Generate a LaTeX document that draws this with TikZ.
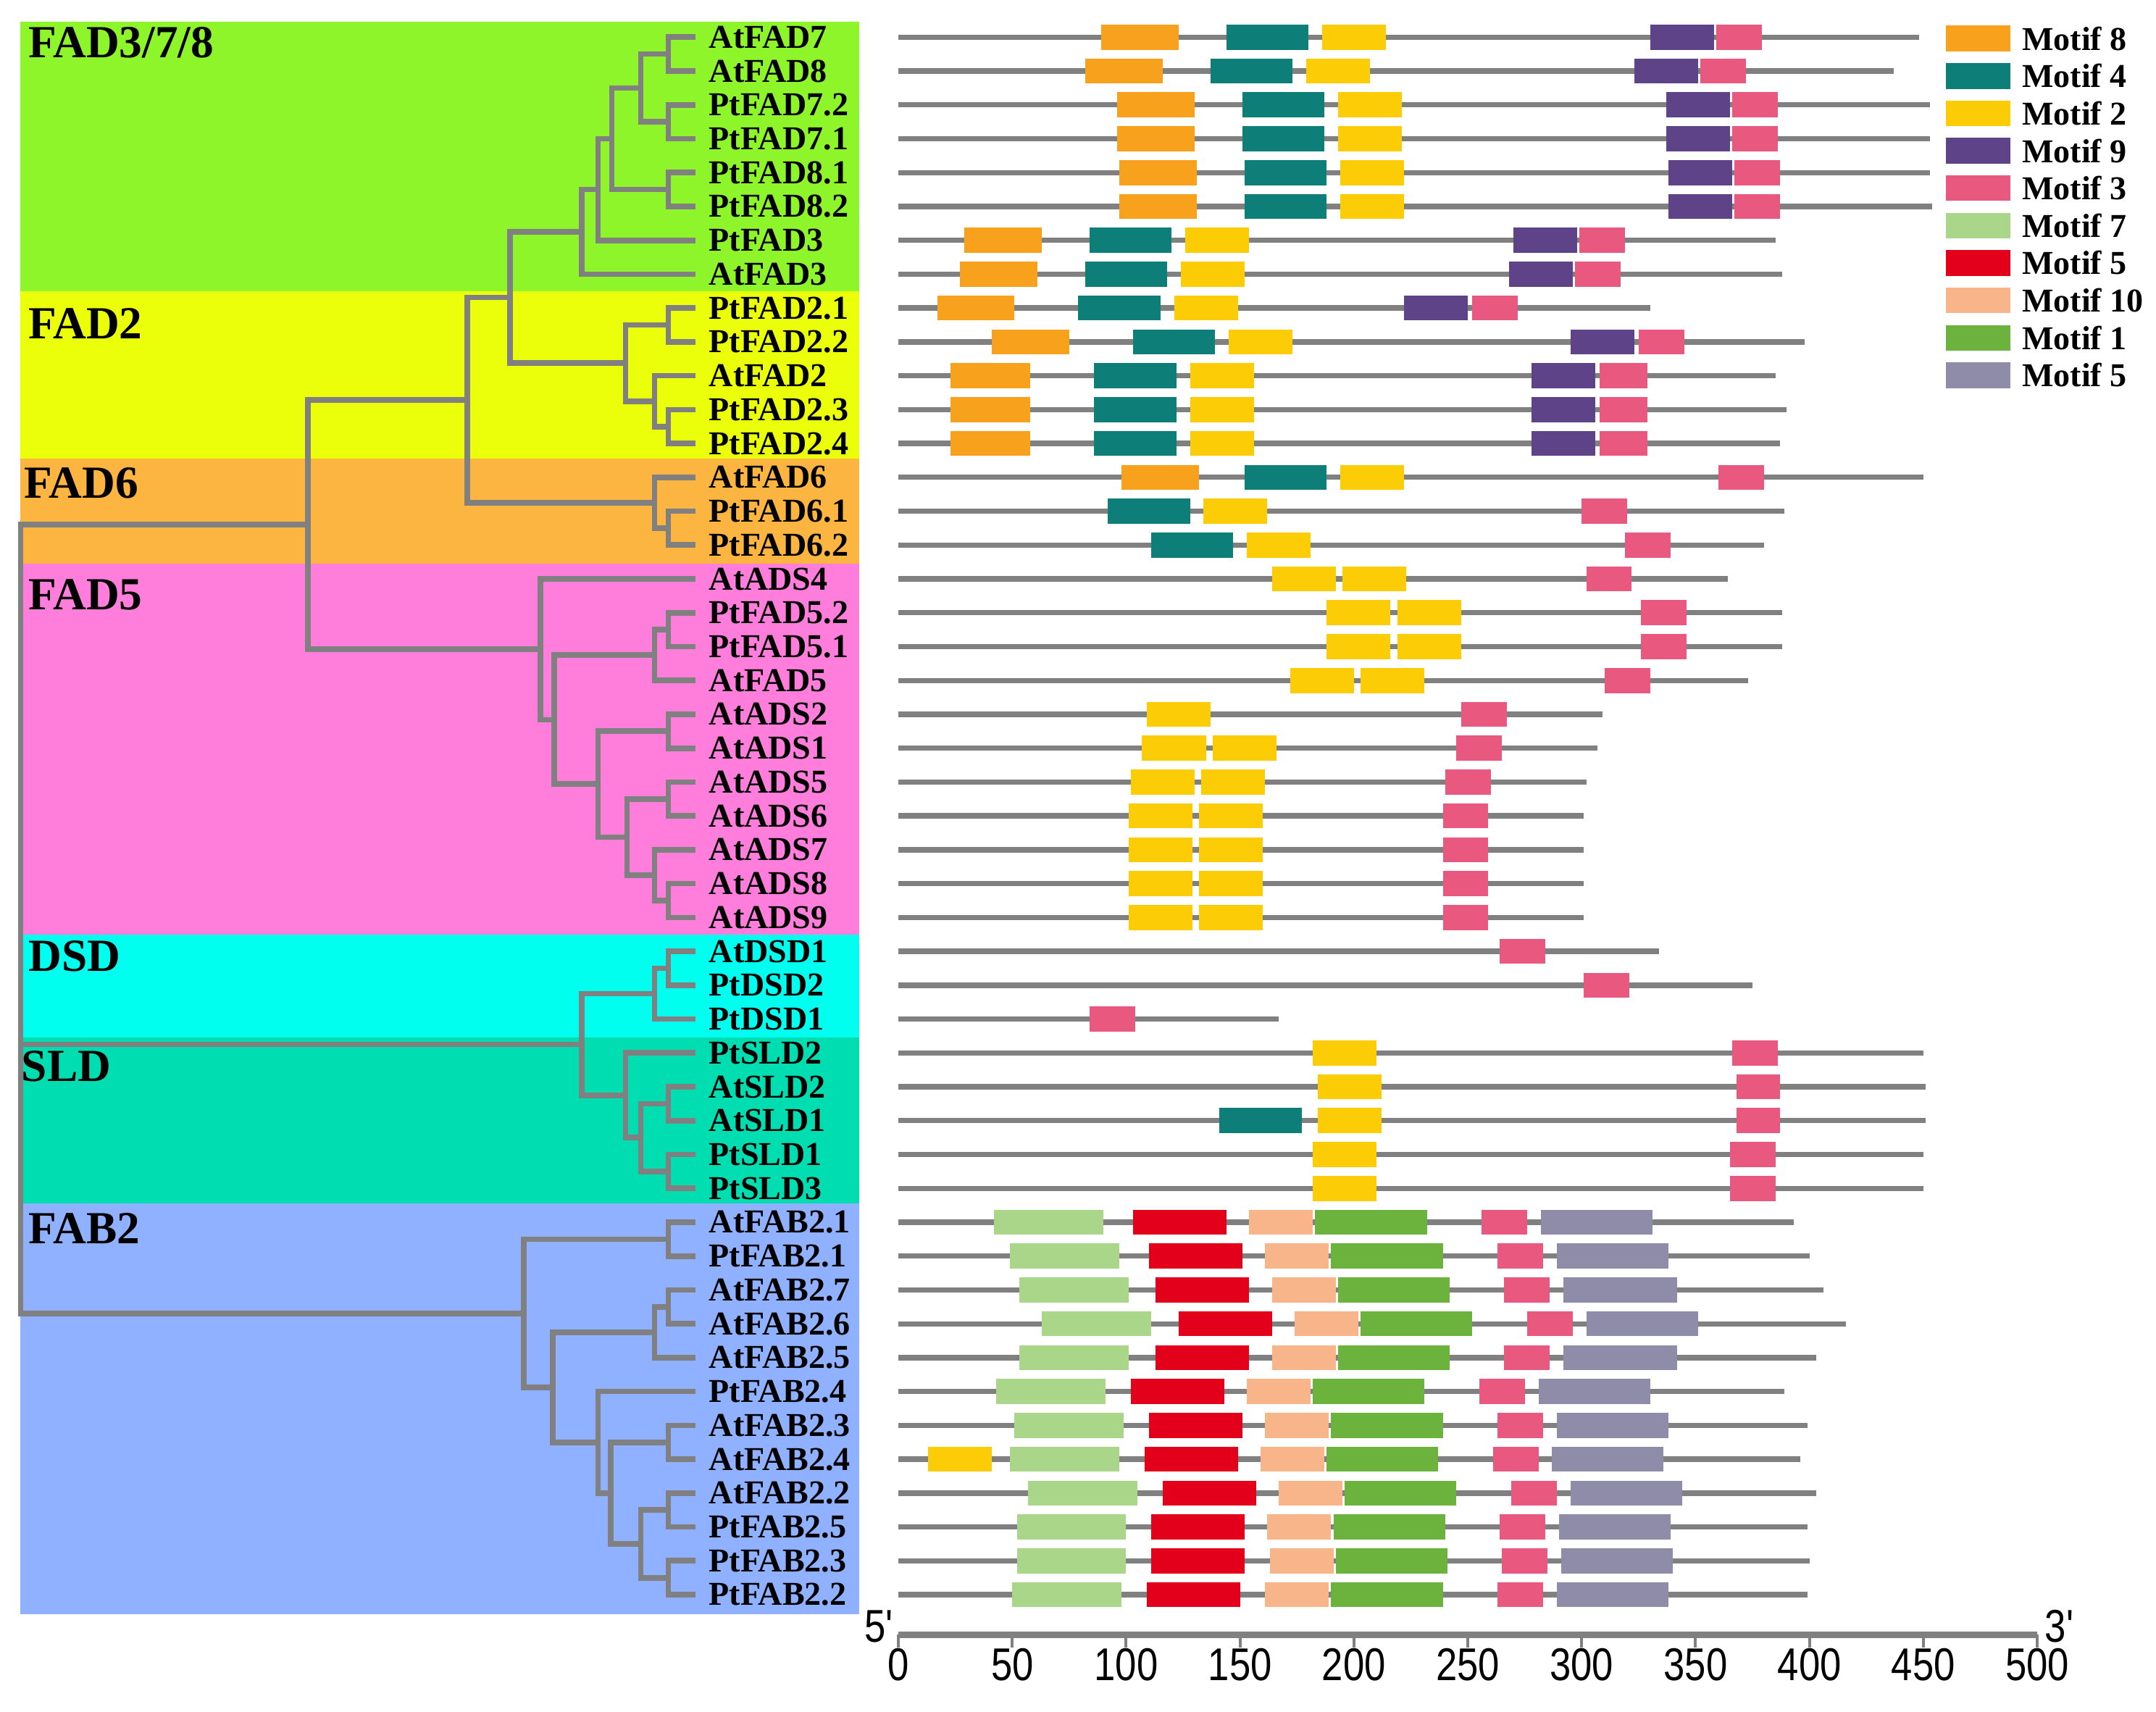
\documentclass[tikz,border=0pt]{standalone}
\usepackage{fontspec}
\setmainfont{Liberation Serif}
\newfontfamily\axisfont[FakeStretch=0.83]{Liberation Sans}
\usetikzlibrary{positioning}

\definecolor{treegray}{RGB}{128,128,128}
\definecolor{bandA}{RGB}{143,245,43}
\definecolor{bandB}{RGB}{235,255,10}
\definecolor{bandC}{RGB}{251,181,64}
\definecolor{bandD}{RGB}{255,126,219}
\definecolor{bandE}{RGB}{0,255,238}
\definecolor{bandF}{RGB}{0,221,176}
\definecolor{bandG}{RGB}{143,177,255}
\definecolor{m8}{HTML}{F8A11C}
\definecolor{m4}{HTML}{0E7F78}
\definecolor{m2}{HTML}{FCCC07}
\definecolor{m9}{HTML}{5E4388}
\definecolor{m3}{HTML}{E9587F}
\definecolor{m7}{HTML}{AAD68A}
\definecolor{m5}{HTML}{E2001A}
\definecolor{m10}{HTML}{F7B589}
\definecolor{m1}{HTML}{6CB33E}
\definecolor{m5b}{HTML}{8E8CA9}

\tikzset{
  branch/.style={draw=treegray, line width=1.15pt},
  backbone/.style={draw=treegray, line width=1.1pt},
  leaf/.style={anchor=west, inner xsep=0.09cm, inner ysep=0pt, font=\bfseries\fontsize{6.9}{7}\selectfont},
  clade/.style={anchor=base west, inner sep=0pt, font=\bfseries\fontsize{9.5}{10}\selectfont},
  legtext/.style={anchor=west, inner sep=0pt, font=\bfseries\fontsize{6.9}{7}\selectfont},
  ticklabel/.style={inner sep=0pt, font=\axisfont\fontsize{9.5}{10}\selectfont}
}

\begin{document}
\begin{tikzpicture}[x=0.01cm, y=-0.2461cm]
\useasboundingbox (0,-1.097) rectangle (1568,49.45);

% clade bands
\fill[bandA] (15,-0.45) rectangle (625,7.5);
\fill[bandB] (15,7.5) rectangle (625,12.45);
\fill[bandC] (15,12.45) rectangle (625,15.55);
\fill[bandD] (15,15.55) rectangle (625,26.5);
\fill[bandE] (15,26.5) rectangle (625,29.55);
\fill[bandF] (15,29.55) rectangle (625,34.45);
\fill[bandG] (15,34.45) rectangle (625,46.57);

\node[clade] (cA) at (20,0.61) {FAD3/7/8};
\node[clade] (cB) at (20,8.9) {FAD2};
\node[clade] (cC) at (17,13.61) {FAD6};
\node[clade] (cD) at (20,16.9) {FAD5};
\node[clade] (cE) at (20,27.59) {DSD};
\node[clade] (cF) at (15,30.84) {SLD};
\node[clade] (cG) at (20,35.64) {FAB2};

% leaves
\foreach \nm [count=\i from 0] in {AtFAD7,AtFAD8,PtFAD7.2,PtFAD7.1,PtFAD8.1,PtFAD8.2,PtFAD3,AtFAD3,
  PtFAD2.1,PtFAD2.2,AtFAD2,PtFAD2.3,PtFAD2.4,AtFAD6,PtFAD6.1,PtFAD6.2,AtADS4,PtFAD5.2,PtFAD5.1,
  AtFAD5,AtADS2,AtADS1,AtADS5,AtADS6,AtADS7,AtADS8,AtADS9,AtDSD1,PtDSD2,PtDSD1,PtSLD2,AtSLD2,
  AtSLD1,PtSLD1,PtSLD3,AtFAB2.1,PtFAB2.1,AtFAB2.7,AtFAB2.6,AtFAB2.5,PtFAB2.4,AtFAB2.3,AtFAB2.4,
  AtFAB2.2,PtFAB2.5,PtFAB2.3,PtFAB2.2}
  \node[leaf] (l\i) at (506,\i) {\nm};

% tree nodes
\coordinate (n1) at (486,0.5);
\coordinate (n2) at (486,2.5);
\coordinate (n3) at (466,1.5);
\coordinate (n4) at (486,4.5);
\coordinate (n5) at (445,3);
\coordinate (n6) at (435,4.5);
\coordinate (n7) at (423,5.75);
\coordinate (n8) at (486,8.5);
\coordinate (n9) at (486,11.5);
\coordinate (n10) at (476,10.75);
\coordinate (n11) at (455,9.625);
\coordinate (n12) at (371,7.69);
\coordinate (n13) at (486,14.5);
\coordinate (n14) at (476,13.75);
\coordinate (n15) at (340,10.72);
\coordinate (n16) at (486,17.5);
\coordinate (n17) at (476,18.25);
\coordinate (n18) at (486,20.5);
\coordinate (n19) at (486,22.5);
\coordinate (n20) at (486,25.5);
\coordinate (n21) at (476,24.75);
\coordinate (n22) at (456,23.625);
\coordinate (n23) at (435,22.06);
\coordinate (n24) at (403,20.16);
\coordinate (n25) at (393,18.08);
\coordinate (n26) at (224,14.4);
\coordinate (n27) at (486,27.5);
\coordinate (n28) at (476,28.25);
\coordinate (n29) at (486,31.5);
\coordinate (n30) at (486,33.5);
\coordinate (n31) at (466,32.5);
\coordinate (n32) at (455,31.25);
\coordinate (n33) at (423,29.75);
\coordinate (n34) at (486,35.5);
\coordinate (n35) at (486,37.5);
\coordinate (n36) at (476,38.25);
\coordinate (n37) at (486,41.5);
\coordinate (n38) at (486,43.5);
\coordinate (n39) at (486,45.5);
\coordinate (n40) at (466,44.5);
\coordinate (n41) at (444,43);
\coordinate (n42) at (435,41.5);
\coordinate (n43) at (402,39.875);
\coordinate (n44) at (381,37.69);
\coordinate (root) at (15,26);

\foreach \c/\p in {l0.west/n1,l1.west/n1,l2.west/n2,l3.west/n2,n1/n3,n2/n3,l4.west/n4,l5.west/n4,
  n3/n5,n4/n5,n5/n6,l6.west/n6,n6/n7,l7.west/n7,l8.west/n8,l9.west/n8,l11.west/n9,l12.west/n9,
  l10.west/n10,n9/n10,n8/n11,n10/n11,n7/n12,n11/n12,l14.west/n13,l15.west/n13,l13.west/n14,n13/n14,
  n12/n15,n14/n15,l17.west/n16,l18.west/n16,n16/n17,l19.west/n17,l20.west/n18,l21.west/n18,
  l22.west/n19,l23.west/n19,l25.west/n20,l26.west/n20,l24.west/n21,n20/n21,n19/n22,n21/n22,
  n18/n23,n22/n23,n17/n24,n23/n24,l16.west/n25,n24/n25,n15/n26,n25/n26,
  l27.west/n27,l28.west/n27,n27/n28,l29.west/n28,l31.west/n29,l32.west/n29,l33.west/n30,l34.west/n30,
  n29/n31,n30/n31,l30.west/n32,n31/n32,n28/n33,n32/n33,
  l35.west/n34,l36.west/n34,l37.west/n35,l38.west/n35,n35/n36,l39.west/n36,l41.west/n37,l42.west/n37,
  l43.west/n38,l44.west/n38,l45.west/n39,l46.west/n39,n38/n40,n39/n40,n37/n41,n40/n41,l40.west/n42,
  n41/n42,n36/n43,n42/n43,n34/n44,n43/n44,n26/root,n33/root,n44/root}
  \draw[branch] (\c) -| (\p);

% motifs, x in amino acids
\begin{scope}[xshift=6.53cm, x=0.01656cm]
\foreach \r/\len/\mots in {
  0/448/{m8/89/123,m4/144/180,m2/186/214,m9/330/358,m3/359/379},
  1/437/{m8/82/116,m4/137/173,m2/179/207,m9/323/351,m3/352/372},
  2/453/{m8/96/130,m4/151/187,m2/193/221,m9/337/365,m3/366/386},
  3/453/{m8/96/130,m4/151/187,m2/193/221,m9/337/365,m3/366/386},
  4/453/{m8/97/131,m4/152/188,m2/194/222,m9/338/366,m3/367/387},
  5/454/{m8/97/131,m4/152/188,m2/194/222,m9/338/366,m3/367/387},
  6/385/{m8/29/63,m4/84/120,m2/126/154,m9/270/298,m3/299/319},
  7/388/{m8/27/61,m4/82/118,m2/124/152,m9/268/296,m3/297/317},
  8/330/{m8/17/51,m4/79/115,m2/121/149,m9/222/250,m3/252/272},
  9/398/{m8/41/75,m4/103/139,m2/145/173,m9/295/323,m3/325/345},
  10/385/{m8/23/58,m4/86/122,m2/128/156,m9/278/306,m3/308/329},
  11/390/{m8/23/58,m4/86/122,m2/128/156,m9/278/306,m3/308/329},
  12/387/{m8/23/58,m4/86/122,m2/128/156,m9/278/306,m3/308/329},
  13/450/{m8/98/132,m4/152/188,m2/194/222,m3/360/380},
  14/389/{m4/92/128,m2/134/162,m3/300/320},
  15/380/{m4/111/147,m2/153/181,m3/319/339},
  16/364/{m2/164/192,m2/195/223,m3/302/322},
  17/388/{m2/188/216,m2/219/247,m3/326/346},
  18/388/{m2/188/216,m2/219/247,m3/326/346},
  19/373/{m2/172/200,m2/203/231,m3/310/330},
  20/309/{m2/109/137,m3/247/267},
  21/307/{m2/107/135,m2/138/166,m3/245/265},
  22/302/{m2/102/130,m2/133/161,m3/240/260},
  23/301/{m2/101/129,m2/132/160,m3/239/259},
  24/301/{m2/101/129,m2/132/160,m3/239/259},
  25/301/{m2/101/129,m2/132/160,m3/239/259},
  26/301/{m2/101/129,m2/132/160,m3/239/259},
  27/334/{m3/264/284},
  28/375/{m3/301/321},
  29/167/{m3/84/104},
  30/450/{m2/182/210,m3/366/386},
  31/451/{m2/184/212,m3/368/387},
  32/451/{m4/141/177,m2/184/212,m3/368/387},
  33/450/{m2/182/210,m3/365/385},
  34/450/{m2/182/210,m3/365/385},
  35/393/{m7/42/90,m5/103/144,m10/154/182,m1/183/232,m3/256/276,m5b/282/331},
  36/400/{m7/49/97,m5/110/151,m10/161/189,m1/190/239,m3/263/283,m5b/289/338},
  37/406/{m7/53/101,m5/113/154,m10/164/192,m1/193/242,m3/266/286,m5b/292/342},
  38/416/{m7/63/111,m5/123/164,m10/174/202,m1/203/252,m3/276/296,m5b/302/351},
  39/403/{m7/53/101,m5/113/154,m10/164/192,m1/193/242,m3/266/286,m5b/292/342},
  40/389/{m7/43/91,m5/102/143,m10/153/181,m1/182/231,m3/255/275,m5b/281/330},
  41/399/{m7/51/99,m5/110/151,m10/161/189,m1/190/239,m3/263/283,m5b/289/338},
  42/396/{m2/13/41,m7/49/97,m5/108/149,m10/159/187,m1/188/237,m3/261/281,m5b/287/336},
  43/403/{m7/57/105,m5/116/157,m10/167/195,m1/196/245,m3/269/289,m5b/295/344},
  44/399/{m7/52/100,m5/111/152,m10/162/190,m1/191/240,m3/264/284,m5b/290/339},
  45/400/{m7/52/100,m5/111/152,m10/163/191,m1/192/241,m3/265/285,m5b/291/340},
  46/399/{m7/50/98,m5/109/150,m10/161/189,m1/190/239,m3/263/283,m5b/289/338}}
{
  \draw[backbone] (0,\r) -- (\len,\r);
  \foreach \c/\a/\b in \mots
    \fill[fill=\c] (\a,\r-0.37) rectangle (\b,\r+0.37);
}

% scale
\draw[treegray, line width=1.4pt] (0,47.18) -- (500,47.18);
\foreach \t in {0,50,...,500} {
  \draw[treegray, line width=0.6pt] (\t,47.18) -- (\t,47.55);
  \node[ticklabel] (t\t) at (\t,48.07) {\t};
}
\node[ticklabel, anchor=east] (five) at (-2,46.93) {5'};
\node[ticklabel, anchor=west] (three) at (503,46.93) {3'};
\end{scope}

% legend
\foreach \c/\t [count=\i from 0] in {m8/8,m4/4,m2/2,m9/9,m3/3,m7/7,m5/5,m10/10,m1/1,m5b/5} {
  \pgfmathsetmacro\yy{0.04+1.105*\i}
  \fill[fill=\c] (1415,\yy-0.38) rectangle (1462,\yy+0.38);
  \node[legtext] (g\i) at (1470,\yy) {Motif \t};
}
\end{tikzpicture}
\end{document}
